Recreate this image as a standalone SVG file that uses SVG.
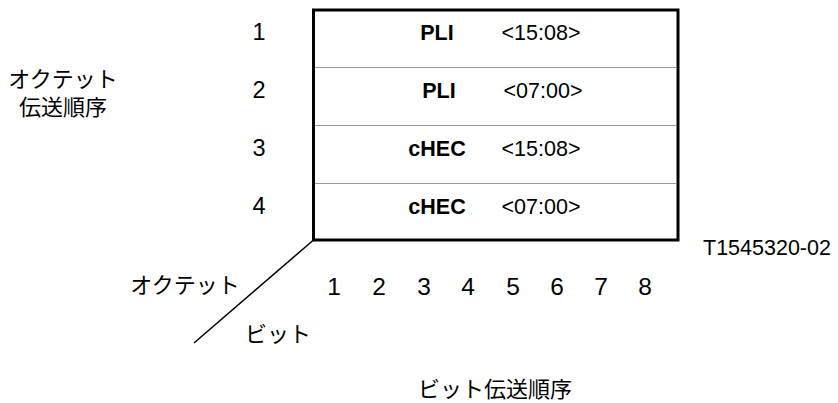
<svg xmlns="http://www.w3.org/2000/svg" width="838" height="403" viewBox="0 0 838 403">
<style>
text{font-family:"Liberation Sans","Noto Sans CJK JP",Arial,sans-serif;fill:#000;dominant-baseline:central}
.n{font-size:23.5px;text-anchor:middle}
.d{font-size:24.5px;text-anchor:middle}
.j{font-size:22px;text-anchor:middle}
.b{font-size:21.5px;font-weight:bold;text-anchor:middle}
.v{font-size:21.5px;text-anchor:middle}
.div{stroke:#999;stroke-width:1.2}
</style>
<rect width="838" height="403" fill="#fff"/>
<g id="frame">
<rect x="313.5" y="10" width="364.5" height="230" fill="none" stroke="#000" stroke-width="3"/>
<line class="div" x1="315" y1="67.5" x2="676.5" y2="67.5"/>
<line class="div" x1="315" y1="125.5" x2="676.5" y2="125.5"/>
<line class="div" x1="315" y1="183.5" x2="676.5" y2="183.5"/>
</g>
<g id="connectors">
<line x1="313.5" y1="240" x2="194" y2="343" stroke="#000" stroke-width="1.5"/>
</g>
<g id="row1"><text class="b" x="437" y="33">PLI</text><text class="v" x="541" y="33">&lt;15:08&gt;</text></g>
<g id="row2"><text class="b" x="439" y="91">PLI</text><text class="v" x="543" y="91">&lt;07:00&gt;</text></g>
<g id="row3"><text class="b" x="437" y="149">cHEC</text><text class="v" x="541" y="149">&lt;15:08&gt;</text></g>
<g id="row4"><text class="b" x="437" y="207">cHEC</text><text class="v" x="541" y="207">&lt;07:00&gt;</text></g>
<g id="rownums">
<text class="n" x="259" y="32">1</text>
<text class="n" x="259" y="90">2</text>
<text class="n" x="259" y="148">3</text>
<text class="n" x="259" y="206">4</text>
</g>
<g id="octet-order">
<text class="j" x="63" y="79">オクテット</text>
<text class="j" x="63" y="107">伝送順序</text>
</g>
<g id="bitnums">
<text class="d" x="334" y="286">1</text>
<text class="d" x="379" y="286">2</text>
<text class="d" x="424" y="286">3</text>
<text class="d" x="468" y="286">4</text>
<text class="d" x="513" y="286">5</text>
<text class="d" x="557" y="286">6</text>
<text class="d" x="601" y="286">7</text>
<text class="d" x="645" y="286">8</text>
</g>
<g id="labels">
<text class="j" x="185" y="285">オクテット</text>
<text class="j" x="278" y="334">ビット</text>
<text class="j" x="495" y="389">ビット伝送順序</text>
<text class="v" x="767" y="248">T1545320-02</text>
</g>
</svg>
